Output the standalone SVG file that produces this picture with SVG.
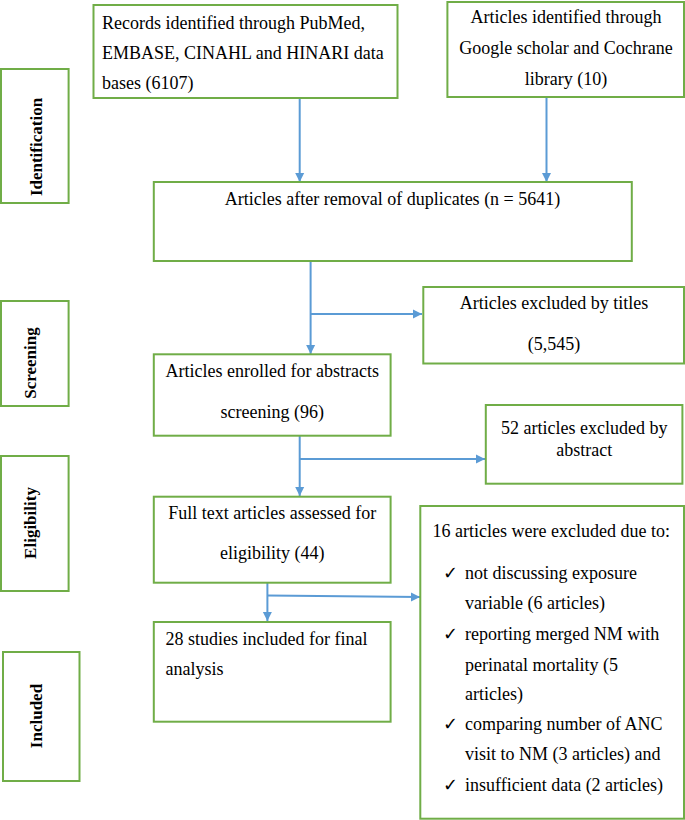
<svg xmlns="http://www.w3.org/2000/svg" width="685" height="820" viewBox="0 0 685 820">
<style>
.box{fill:#fff;stroke:#70AD47;stroke-width:2}
.t{font-family:"Liberation Serif","Times New Roman",serif;font-size:18px;fill:#000}
.c{text-anchor:middle}
.lab{font-family:"Liberation Serif","Times New Roman",serif;font-size:17px;font-weight:bold;fill:#000;text-anchor:middle;dominant-baseline:central}
.ck{font-family:"DejaVu Sans",sans-serif;font-size:18px;fill:#000}
.con{stroke:#5B9BD5;stroke-width:2;fill:none}
</style>
<defs>
<marker id="ah" markerUnits="userSpaceOnUse" markerWidth="10" markerHeight="10" refX="9" refY="5" orient="auto">
<path d="M0,0.5 L9,5 L0,9.5 z" fill="#5B9BD5"/>
</marker>
</defs>
<rect width="685" height="820" fill="#fff"/>
<g id="connectors">
<path class="con" d="M299.7,98 V182" marker-end="url(#ah)"/>
<path class="con" d="M546.5,97 V182" marker-end="url(#ah)"/>
<path class="con" d="M310.6,261 V354" marker-end="url(#ah)"/>
<path class="con" d="M310.6,314 H422" marker-end="url(#ah)"/>
<path class="con" d="M299.7,436 V496" marker-end="url(#ah)"/>
<path class="con" d="M299.7,459 H485" marker-end="url(#ah)"/>
<path class="con" d="M267.4,583 V621" marker-end="url(#ah)"/>
<path class="con" d="M267.4,595.5 L420,597" marker-end="url(#ah)"/>
</g>
<g id="label-identification">
<rect class="box" x="1" y="69" width="67.6" height="134"/>
<text class="lab" transform="translate(36,147) rotate(-90)">Identification</text>
</g>
<g id="label-screening">
<rect class="box" x="1" y="301" width="67.6" height="105"/>
<text class="lab" transform="translate(30.5,363) rotate(-90)">Screening</text>
</g>
<g id="label-eligibility">
<rect class="box" x="1" y="456" width="67.6" height="135"/>
<text class="lab" transform="translate(30,523) rotate(-90)">Eligibility</text>
</g>
<g id="label-included">
<rect class="box" x="3" y="652" width="76.5" height="129"/>
<text class="lab" transform="translate(36,716) rotate(-90)">Included</text>
</g>
<g id="records">
<rect class="box" x="93.5" y="5" width="304" height="93"/>
<text class="t" x="102" y="28.5">Records identified through PubMed,</text>
<text class="t" x="102" y="59">EMBASE, CINAHL and HINARI data</text>
<text class="t" x="102" y="89">bases (6107)</text>
</g>
<g id="google">
<rect class="box" x="447.4" y="2" width="236.6" height="95"/>
<text class="t c" x="566" y="23">Articles identified through</text>
<text class="t c" x="566" y="54">Google scholar and Cochrane</text>
<text class="t c" x="566" y="85">library (10)</text>
</g>
<g id="duplicates">
<rect class="box" x="153.8" y="182" width="478" height="79"/>
<text class="t c" x="392.5" y="205">Articles after removal of duplicates (n = 5641)</text>
</g>
<g id="excluded-titles">
<rect class="box" x="423.3" y="287" width="260.7" height="76.5"/>
<text class="t c" x="554" y="309">Articles excluded by titles</text>
<text class="t c" x="554" y="350">(5,545)</text>
</g>
<g id="abstracts">
<rect class="box" x="153.8" y="354.3" width="236.8" height="81.4"/>
<text class="t c" x="272.2" y="377">Articles enrolled for abstracts</text>
<text class="t c" x="272.2" y="418">screening (96)</text>
</g>
<g id="excluded-abstract">
<rect class="box" x="485.8" y="405" width="196.6" height="78.7"/>
<text class="t c" x="584.3" y="434">52 articles excluded by</text>
<text class="t c" x="584.3" y="456">abstract</text>
</g>
<g id="fulltext">
<rect class="box" x="153.8" y="496.7" width="236.8" height="86"/>
<text class="t c" x="272.2" y="519">Full text articles assessed for</text>
<text class="t c" x="272.2" y="559">eligibility (44)</text>
</g>
<g id="excluded-fulltext">
<rect class="box" x="420.3" y="506" width="263.7" height="312.7"/>
<text class="t" x="432.5" y="537">16 articles were excluded due to:</text>
<text class="ck" x="443" y="579">✓</text>
<text class="t" x="465" y="579">not discussing exposure</text>
<text class="t" x="465" y="609">variable (6 articles)</text>
<text class="ck" x="443" y="640">✓</text>
<text class="t" x="465" y="640">reporting merged NM with</text>
<text class="t" x="465" y="671">perinatal mortality (5</text>
<text class="t" x="465" y="700">articles)</text>
<text class="ck" x="443" y="730">✓</text>
<text class="t" x="465" y="730">comparing number of ANC</text>
<text class="t" x="465" y="760">visit to NM (3 articles) and</text>
<text class="ck" x="443" y="791">✓</text>
<text class="t" x="465" y="791">insufficient data (2 articles)</text>
</g>
<g id="included">
<rect class="box" x="153.8" y="622" width="236.8" height="99.7"/>
<text class="t" x="165.6" y="645">28 studies included for final</text>
<text class="t" x="165.6" y="675">analysis</text>
</g>
</svg>
